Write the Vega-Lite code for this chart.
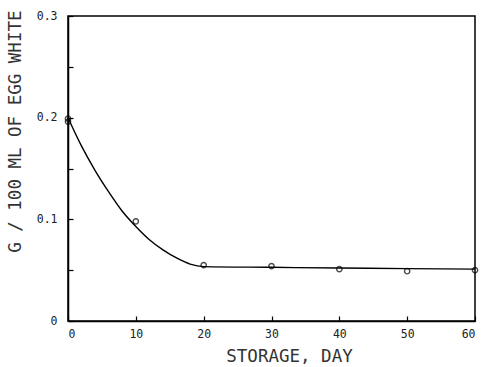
{
  "$schema": "https://vega.github.io/schema/vega-lite/v6.json",
  "width": 407,
  "height": 305,
  "autosize": {"type": "none"},
  "padding": {"left": 68, "top": 16, "right": 7, "bottom": 46},
  "background": "white",
  "config": {
    "view": {"stroke": "black", "strokeWidth": 1.5},
    "font": "DejaVu Sans Mono",
    "axis": {
      "grid": false,
      "domainColor": "black",
      "domainWidth": 1.5,
      "tickColor": "black",
      "tickWidth": 1.2,
      "tickSize": -5,
      "labelColor": "#222",
      "labelFont": "DejaVu Sans Mono",
      "labelFontSize": 11.5,
      "titleFont": "DejaVu Sans Mono",
      "titleFontSize": 17.5,
      "titleFontWeight": "normal",
      "titleColor": "#333"
    }
  },
  "datasets": {
    "points": [
      {"day": 0, "value": 0.196},
      {"day": 0, "value": 0.199},
      {"day": 10, "value": 0.098},
      {"day": 20, "value": 0.055},
      {"day": 30, "value": 0.054},
      {"day": 40, "value": 0.051},
      {"day": 50, "value": 0.049},
      {"day": 60, "value": 0.050}
    ],
    "curve": [
      {"day": 0, "value": 0.200},
      {"day": 2, "value": 0.172},
      {"day": 4, "value": 0.148},
      {"day": 6, "value": 0.127},
      {"day": 8, "value": 0.108},
      {"day": 10, "value": 0.093},
      {"day": 12, "value": 0.080},
      {"day": 14, "value": 0.070},
      {"day": 16, "value": 0.062},
      {"day": 18, "value": 0.056},
      {"day": 20, "value": 0.0535},
      {"day": 30, "value": 0.0528},
      {"day": 40, "value": 0.0521},
      {"day": 50, "value": 0.0515},
      {"day": 60, "value": 0.051}
    ]
  },
  "layer": [
    {
      "data": {"name": "curve"},
      "mark": {"type": "line", "interpolate": "monotone", "color": "black", "strokeWidth": 1.4},
      "encoding": {
        "x": {
          "field": "day", "type": "quantitative",
          "scale": {"domain": [0, 60], "nice": false},
          "axis": {"values": [0, 10, 20, 30, 40, 50, 60], "title": "STORAGE, DAY", "labelPadding": 12, "titlePadding": 8, "titleX": 221}
        },
        "y": {
          "field": "value", "type": "quantitative",
          "scale": {"domain": [0, 0.3], "nice": false},
          "axis": {
            "values": [0, 0.05, 0.1, 0.15, 0.2, 0.25, 0.3],
            "format": ".2~f",
            "labelExpr": "indexof(['0','0.1','0.2','0.3'], datum.label) >= 0 ? datum.label : ''",
            "title": "G / 100 ML OF EGG WHITE",
            "labelPadding": 16,
            "titlePadding": 12,
            "titleAnchor": "end",
            "titleY": -6
          }
        }
      }
    },
    {
      "data": {"name": "points"},
      "mark": {"type": "point", "shape": "circle", "filled": false, "color": "black", "size": 28, "strokeWidth": 1.4},
      "encoding": {
        "x": {"field": "day", "type": "quantitative"},
        "y": {"field": "value", "type": "quantitative"}
      }
    }
  ]
}
